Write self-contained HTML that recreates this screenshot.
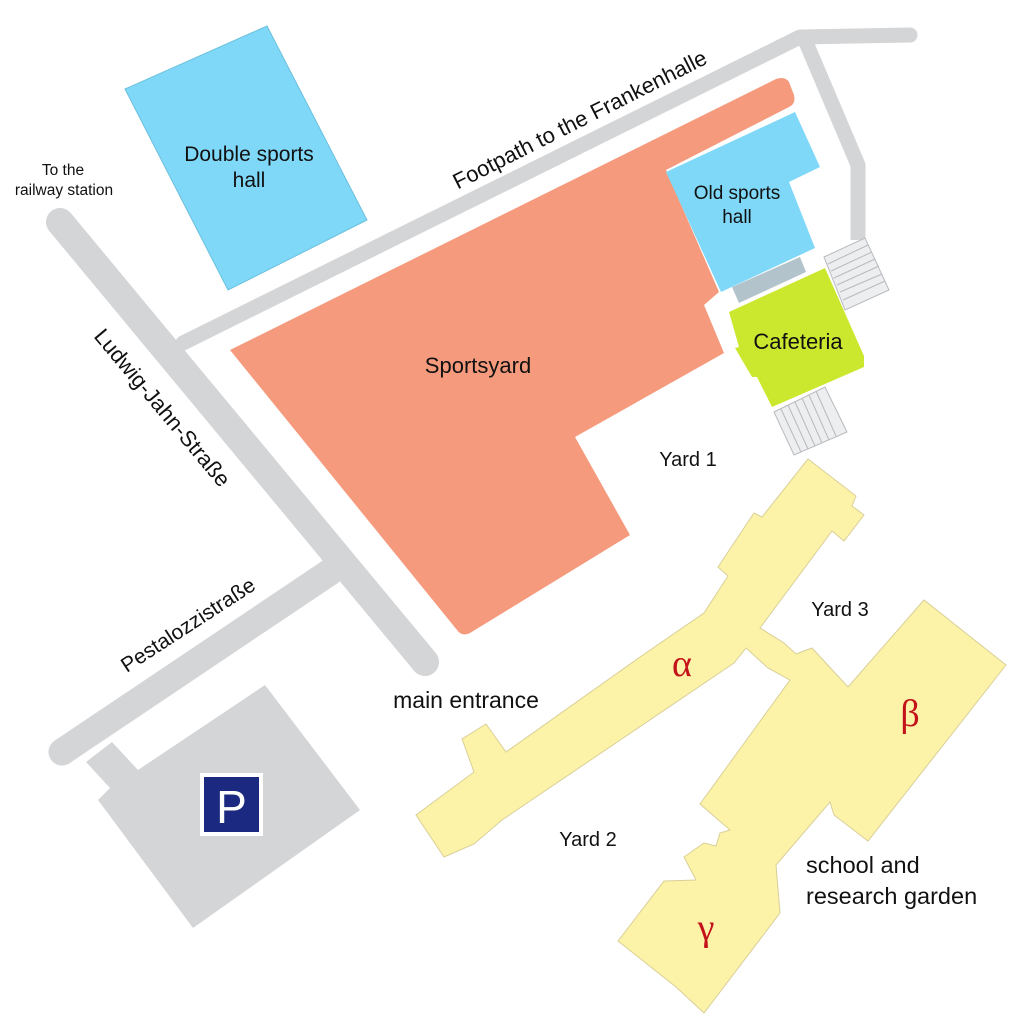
<!DOCTYPE html>
<html><head><meta charset="utf-8"><style>
html,body{margin:0;padding:0;background:#fff}
svg{display:block}
text{font-family:"Liberation Sans",sans-serif;fill:#111}
</style></head><body>
<svg width="1024" height="1020" viewBox="0 0 1024 1020" xmlns="http://www.w3.org/2000/svg">
<g stroke="#d4d5d7" fill="none">
<line x1="60" y1="222" x2="425" y2="662" stroke-width="28" stroke-linecap="round"/>
<polyline points="62,752 330,572" stroke-width="27" stroke-linecap="round"/>
<polyline points="183,343 800,37 910,35" stroke-width="15" stroke-linecap="round" stroke-linejoin="round"/>
<polyline points="805,40 858,165 858,240" stroke-width="15" stroke-linejoin="round"/>
</g>
<polygon points="86,762 112,742 138,770 265,685 360,810 193,928 98,800 110,788" fill="#d4d5d7"/>
<rect x="200" y="773" width="63" height="63" fill="#fff"/>
<rect x="204" y="777" width="55" height="55" fill="#1b2a80"/>
<text x="231.5" y="823" font-size="46" text-anchor="middle" style="fill:#fff">P</text>
<polygon points="125,89 267,26 367,220 228,290" fill="#7fd8f7" stroke="#6cc0dd" stroke-width="1"/>
<path d="M230,350 L776,79 Q785,76 789,82 L794,95 Q796,104 789,107 L666,170 L719,292 L704,305 L724,353 L575,437 L630,535 L470,633 Q462,637 457,630 Z" fill="#f59a7c"/>
<polygon points="666,172 795,112 820,167 789,182 815,248 721,292" fill="#7fd8f7"/>
<polygon points="732,287 800,257 806,272 739,303" fill="#b3c3cc"/>
<polygon points="729,312 825,268 864,356 864,367 772,407 757,377 752,377 735,348 739,347" fill="#cce82e"/>
<g fill="#eceef0" stroke="#b8babd" stroke-width="1">
<polygon points="824,257 865,238 889,290 845,310"/>
<polygon points="774,412 825,387 847,432 794,455"/>
</g>
<g stroke="#b8babd" stroke-width="1">
<line x1="828" y1="264" x2="868" y2="245"/><line x1="831" y1="271" x2="872" y2="252"/><line x1="834" y1="278" x2="875" y2="259"/><line x1="837" y1="285" x2="879" y2="266"/><line x1="840" y1="292" x2="882" y2="274"/><line x1="843" y1="300" x2="885" y2="281"/>
<line x1="781" y1="409" x2="801" y2="452"/><line x1="788" y1="405" x2="808" y2="449"/><line x1="795" y1="402" x2="815" y2="446"/><line x1="802" y1="398" x2="822" y2="443"/><line x1="809" y1="395" x2="829" y2="440"/><line x1="816" y1="391" x2="836" y2="436"/>
</g>
<polygon points="808,459 856,496 852,506 864,515 844,541 832,531 760,628 784,643 796,654 812,648 848,687 924,600 1006,665 868,841 834,815 830,802 776,865 780,913 704,1013 676,987 618,941 664,881 696,880 684,857 704,843 716,846 720,833 730,830 700,804 790,680 768,668 746,648 734,663 502,820 474,844 444,857 416,815 474,772 462,739 486,724 506,752 640,657 704,613 728,576 718,567 754,513 762,517" fill="#fdf3a8" stroke="#d9cf98" stroke-width="1"/>
<text x="249" y="161" font-size="21" text-anchor="middle">Double sports</text>
<text x="249" y="187" font-size="21" text-anchor="middle">hall</text>
<text x="63" y="175" font-size="15.5" text-anchor="middle">To the</text>
<text x="64" y="195" font-size="15.5" text-anchor="middle">railway station</text>
<text x="478" y="373" font-size="22" text-anchor="middle">Sportsyard</text>
<text x="737" y="199" font-size="19" text-anchor="middle">Old sports</text>
<text x="737" y="223" font-size="19" text-anchor="middle">hall</text>
<text x="798" y="349" font-size="22" text-anchor="middle">Cafeteria</text>
<text x="688" y="466" font-size="20" text-anchor="middle">Yard 1</text>
<text x="840" y="616" font-size="20" text-anchor="middle">Yard 3</text>
<text x="588" y="846" font-size="20" text-anchor="middle">Yard 2</text>
<text x="466" y="708" font-size="23" text-anchor="middle">main entrance</text>
<text x="806" y="873" font-size="23.5">school and</text>
<text x="806" y="904" font-size="23.5">research garden</text>
<text x="580" y="127" font-size="22" text-anchor="middle" transform="rotate(-26.8 580 120)">Footpath to the Frankenhalle</text>
<text x="162" y="415" font-size="22" text-anchor="middle" transform="rotate(50 162 408)">Ludwig-Jahn-Straße</text>
<text x="188" y="632" font-size="21" text-anchor="middle" transform="rotate(-33 188 625)">Pestalozzistraße</text>
<text x="682" y="676" font-size="38" text-anchor="middle" style="fill:#c4121a;font-family:'Liberation Serif',serif">α</text>
<text x="910" y="726" font-size="38" text-anchor="middle" style="fill:#c4121a;font-family:'Liberation Serif',serif">β</text>
<text x="706" y="940" font-size="38" text-anchor="middle" style="fill:#c4121a;font-family:'Liberation Serif',serif">γ</text>
</svg>
</body></html>
